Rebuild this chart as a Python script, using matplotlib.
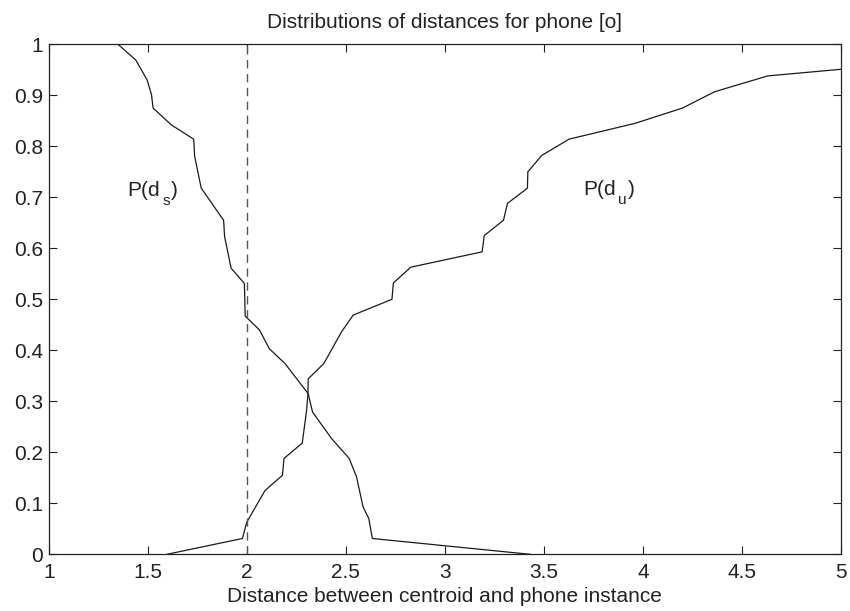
import matplotlib

matplotlib.use("Agg")
import matplotlib.pyplot as plt  # noqa: E402

plt.rcParams["font.family"] = ["Liberation Sans", "DejaVu Sans"]

# P(d_s): distances for same-phone instances (falling curve)
ds_x = [1.350, 1.440, 1.497, 1.519, 1.527, 1.619, 1.732, 1.737, 1.770, 1.820,
        1.883, 1.888, 1.921, 1.988, 1.992, 2.064, 2.114, 2.193, 2.310, 2.332,
        2.428, 2.517, 2.554, 2.587, 2.616, 2.634, 3.430]
ds_y = [1.000, 0.969, 0.930, 0.901, 0.875, 0.842, 0.814, 0.780, 0.718, 0.690,
        0.655, 0.623, 0.561, 0.531, 0.467, 0.440, 0.403, 0.374, 0.315, 0.279,
        0.227, 0.188, 0.152, 0.093, 0.070, 0.031, 0.000]

# P(d_u): distances for other-phone instances (rising curve)
du_x = [1.597, 1.978, 2.000, 2.092, 2.180, 2.188, 2.280, 2.302, 2.309, 2.310,
        2.389, 2.478, 2.537, 2.733, 2.740, 2.828, 3.188, 3.199, 3.296, 3.316,
        3.417, 3.419, 3.489, 3.627, 3.960, 4.200, 4.362, 4.630, 5.000]
du_y = [0.000, 0.031, 0.063, 0.125, 0.155, 0.188, 0.218, 0.282, 0.315, 0.344,
        0.374, 0.436, 0.469, 0.500, 0.532, 0.563, 0.593, 0.625, 0.655, 0.688,
        0.718, 0.750, 0.782, 0.814, 0.845, 0.875, 0.907, 0.938, 0.951]

threshold = 2.0
xticks = [1, 1.5, 2, 2.5, 3, 3.5, 4, 4.5, 5]
yticks = [0, 0.1, 0.2, 0.3, 0.4, 0.5, 0.6, 0.7, 0.8, 0.9, 1]

# curve labels: (x, baseline y, subscript)
labels = [(1.398, 0.7025, "s"), (3.700, 0.7045, "u")]

FS = 15
INK = "#222222"


def subscript_label(ax, x, y, sub):
    """MATLAB-style P(d_x): subscript dropped well below the baseline."""
    t1 = ax.text(x, y, "P(d", fontsize=FS, ha="left", va="baseline", color=INK)
    t2 = ax.annotate(sub, xy=(1, y), xycoords=(t1, "data"), xytext=(1.5, -6.5),
                     textcoords="offset points", fontsize=11, ha="left", va="baseline", color=INK)
    ax.annotate(")", xy=(1, y), xycoords=(t2, "data"), xytext=(0.5, 0),
                textcoords="offset points", fontsize=FS, ha="left", va="baseline", color=INK)


fig = plt.figure(figsize=(8.5, 6.11), dpi=100)
ax = fig.add_axes([0.0573, 0.0928, 0.9321, 0.8347])

ax.plot(ds_x, ds_y, color="#1a1a1a", lw=0.9)
ax.plot(du_x, du_y, color="#1a1a1a", lw=0.9)
ax.plot([threshold, threshold], [0, 1], color="#555555", lw=1.0, ls=(0, (6, 4)))

for lx, ly, sub in labels:
    subscript_label(ax, lx, ly, sub)

ax.set_xlim(1, 5)
ax.set_ylim(0, 1)
ax.set_xticks(xticks)
ax.set_xticklabels([f"{t:g}" for t in xticks])
ax.set_yticks(yticks)
ax.set_yticklabels([f"{t:g}" for t in yticks])
ax.tick_params(direction="in", top=True, right=True, length=6, width=0.8,
               labelsize=FS, colors=INK, pad=4)
ax.tick_params(axis="x", pad=6)
for s in ax.spines.values():
    s.set_linewidth(0.9)
    s.set_color(INK)

ax.set_title("Distributions of distances for phone [o]", fontsize=FS, color=INK, pad=12)
ax.set_xlabel("Distance between centroid and phone instance", fontsize=FS, color=INK, labelpad=4)

fig.savefig("out.png", dpi=100)
